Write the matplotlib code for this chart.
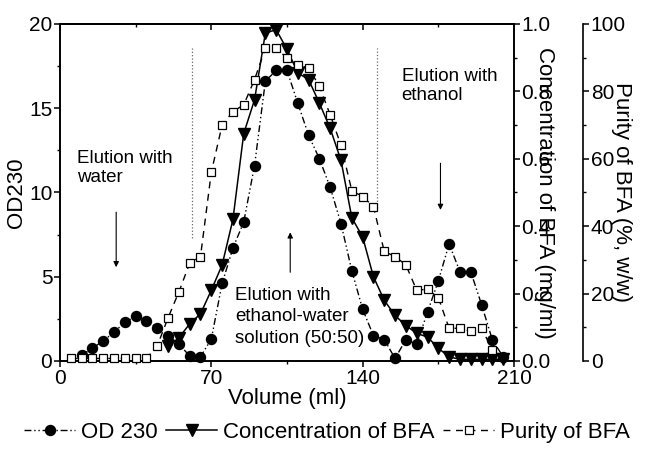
import matplotlib.pyplot as plt
from matplotlib.ticker import MultipleLocator
from matplotlib.lines import Line2D

plt.rcParams['font.family'] = ['Liberation Sans', 'DejaVu Sans']

# OD230 of the collected fractions
vol_od = [10, 15, 20, 25, 30, 35, 40, 45, 50, 55, 60, 65, 70, 75, 80, 85, 90,
          95, 100, 105, 110, 115, 120, 125, 130, 135, 140, 145, 150, 155, 160,
          165, 170, 175, 180, 185, 190, 195, 200, 205]
od230 = [0.35, 0.75, 1.2, 1.7, 2.3, 2.65, 2.4, 1.95, 1.5, 1.0, 0.3, 0.25, 1.3,
         4.6, 6.7, 8.25, 11.6, 16.6, 17.25, 17.25, 15.3, 13.4, 12.0, 10.3, 8.15,
         5.35, 3.07, 1.5, 1.27, 0.15, 1.27, 1.0, 2.9, 4.75, 6.95, 5.3, 5.3, 3.35,
         1.25, 0.25]

# BFA concentration (mg/ml)
vol_conc = [50, 55, 60, 65, 70, 75, 80, 85, 90, 95, 100, 105, 110, 115, 120,
            125, 130, 135, 140, 145, 150, 155, 160, 165, 170, 175, 180, 185,
            190, 195, 200, 205]
conc_bfa = [0.043, 0.069, 0.11, 0.14, 0.21, 0.285, 0.42, 0.675, 0.775, 0.973,
            0.983, 0.925, 0.855, 0.835, 0.765, 0.69, 0.595, 0.425, 0.368, 0.25,
            0.18, 0.135, 0.105, 0.082, 0.071, 0.038, 0.012, 0.005, 0.005, 0.005,
            0.005, 0.005]

# BFA purity (%, w/w)
vol_purity = [5, 10, 15, 20, 25, 30, 35, 40, 45, 50, 55, 60, 65, 70, 75, 80,
              85, 90, 95, 100, 105, 110, 115, 120, 125, 130, 135, 140, 145, 150,
              155, 160, 165, 170, 175, 180, 185, 190, 195, 200]
purity_bfa = [0.75, 0.75, 0.75, 0.75, 0.75, 0.75, 0.75, 0.75, 4.5, 12.8, 20.5,
              29, 31, 56, 70, 74, 76, 83.5, 92.8, 93, 89.8, 87.8, 87, 81.5, 73,
              64, 50.5, 48.8, 45.8, 32.5, 31, 28.5, 21, 21.3, 18.8, 9.7, 9.7, 8.8,
              9.7, 3.3]

# volumes where the eluent was switched
switch_vol = [61, 146.5]

fig = plt.figure(figsize=(6.54, 4.51), dpi=100)
ax = fig.add_axes([0.0917, 0.1996, 0.6942, 0.7472])
ax2 = ax.twinx()
ax3 = ax.twinx()

ls_od = (0, (5, 2, 1, 2, 1, 2))
ls_pur = (0, (5, 4))

ax.plot(vol_od, od230, color='black', ls=ls_od, lw=1, marker='o', ms=7.2,
        clip_on=False)
ax2.plot(vol_conc, conc_bfa, color='black', ls='-', lw=1.1, marker='v', ms=8.5,
         clip_on=False)
ax3.plot(vol_purity, purity_bfa, color='black', ls=ls_pur, lw=1, marker='s',
         ms=6, mfc='white', mew=0.9, clip_on=False)

ax.set_xlim(0, 210)
ax.set_ylim(0, 20)
ax2.set_ylim(0, 1)
ax3.set_ylim(0, 100)

ax.xaxis.set_major_locator(MultipleLocator(70))
ax.xaxis.set_minor_locator(MultipleLocator(35))
ax.yaxis.set_major_locator(MultipleLocator(5))
ax.yaxis.set_minor_locator(MultipleLocator(2.5))
ax2.yaxis.set_major_locator(MultipleLocator(0.2))
ax2.yaxis.set_minor_locator(MultipleLocator(0.1))
ax2.yaxis.set_major_formatter(lambda v, p: f'{v:.1f}')
ax3.yaxis.set_major_locator(MultipleLocator(20))
ax3.yaxis.set_minor_locator(MultipleLocator(10))

for a in (ax, ax2, ax3):
    for s in a.spines.values():
        s.set_linewidth(1.2)
    a.tick_params(which='major', length=4.5, width=1.1, labelsize=15, pad=1)
    a.tick_params(which='minor', length=2.5, width=1.0)

ax3.spines['right'].set_position(('axes', 1.152))
for s in ('top', 'bottom', 'left'):
    ax3.spines[s].set_visible(False)

top = ax.secondary_xaxis('top')
top.xaxis.set_major_locator(MultipleLocator(70))
top.xaxis.set_minor_locator(MultipleLocator(35))
top.tick_params(which='both', direction='in', labeltop=False)
top.tick_params(which='major', length=4.5, width=1.1)
top.tick_params(which='minor', length=2.5, width=1.0)
top.spines['top'].set_linewidth(1.2)

ax.set_xlabel('Volume (ml)', fontsize=16, labelpad=0)
ax.set_ylabel('OD230', fontsize=16, va='center')
ax.yaxis.set_label_coords(-0.095, 0.5)
ax2.set_ylabel('Concentration of BFA (mg/ml)', fontsize=16, rotation=270,
               va='center')
ax2.yaxis.set_label_coords(1.068, 0.5)
ax3.set_ylabel('Purity of BFA (%, w/w)', fontsize=16, rotation=270,
               va='center')
ax3.yaxis.set_label_coords(1.236, 0.5)

# eluent change markers
ax.vlines(switch_vol[0], 7.3, 18.6, colors='dimgray', linestyles=':', lw=0.9)
ax.vlines(switch_vol[1], 9.1, 18.6, colors='dimgray', linestyles=':', lw=0.9)

arrow = dict(arrowstyle='-|>', color='black', lw=0.8, mutation_scale=8)
ax.annotate('', xy=(26, 5.4), xytext=(26, 9.0), arrowprops=arrow)
ax.annotate('', xy=(106.5, 7.8), xytext=(106.5, 5.1), arrowprops=arrow)
ax.annotate('', xy=(176, 8.8), xytext=(176, 11.9), arrowprops=arrow)

ax.text(8, 12.5, 'Elution with\nwater', fontsize=13.5, va='top',
        linespacing=1.15)
ax.text(81, 4.4, 'Elution with\nethanol-water\nsolution (50:50)', fontsize=13.5,
        va='top', linespacing=1.35)
ax.text(158, 17.4, 'Elution with\nethanol', fontsize=13.5, va='top',
        linespacing=1.15)

handles = [
    Line2D([], [], color='black', ls=ls_od, lw=1, marker='o', ms=7.2),
    Line2D([], [], color='black', ls='-', lw=1.1, marker='v', ms=8.5),
    Line2D([], [], color='black', ls=ls_pur, lw=1, marker='s', ms=6,
           mfc='white', mew=0.9),
]
fig.legend(handles, ['OD 230', 'Concentration of BFA', 'Purity of BFA'],
           loc='center', bbox_to_anchor=(0.5, 0.042), ncol=3, frameon=False,
           fontsize=16, handlelength=2.3, handletextpad=0.25,
           columnspacing=0.4, borderpad=0)

fig.savefig('out.png', dpi=100)
